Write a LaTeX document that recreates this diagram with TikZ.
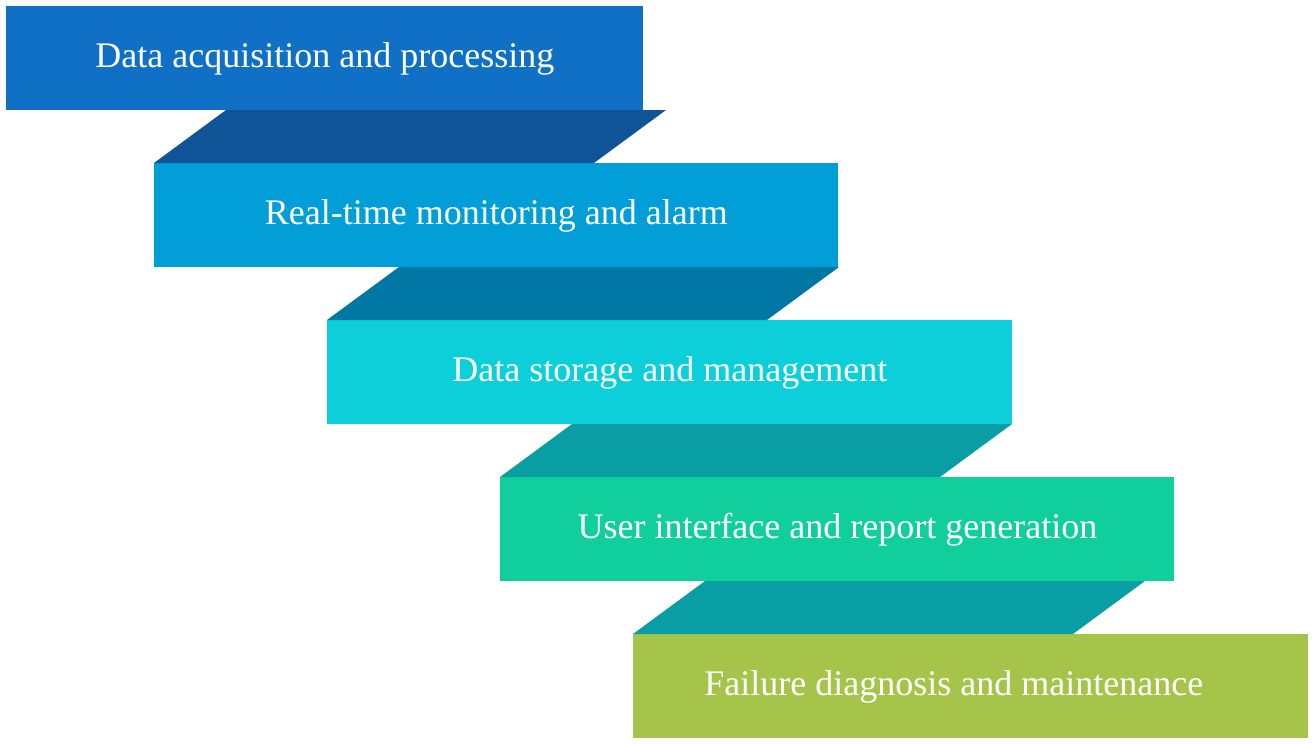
\documentclass[tikz,border=0pt]{standalone}
\usepackage{fontspec}
\setmainfont{Liberation Serif}
\usetikzlibrary{positioning}
\definecolor{stageA}{HTML}{1070C6}
\definecolor{stageB}{HTML}{019ED8}
\definecolor{stageC}{HTML}{0CCFDA}
\definecolor{stageD}{HTML}{11CF9C}
\definecolor{stageE}{HTML}{A6C44A}
\definecolor{linkA}{HTML}{0E5496}
\definecolor{linkB}{HTML}{0077A4}
\definecolor{linkC}{HTML}{099DA4}
\begin{document}
\begin{tikzpicture}[x=0.5pt,y=-0.5pt,
    stage/.style={rectangle,anchor=north west,inner sep=0pt,
      minimum height=52pt,text=white,font=\fontsize{18}{22}\selectfont},
    stagetext/.style={text=white,font=\fontsize{18}{22}\selectfont}]
  \useasboundingbox (0,0) rectangle (1314,744);
  % stages
  \node[stage,fill=stageA,minimum width=318.5pt] (acq) at (6,6) {Data acquisition and processing};
  \node[stage,fill=stageB,minimum width=342pt] (mon) at (154,163) {Real-time monitoring and alarm};
  \node[stage,fill=stageC,minimum width=342.5pt] (sto) at (327,320) {Data storage and management};
  \node[stage,fill=stageD,minimum width=337pt] (gui) at (500,477) {User interface and report generation};
  \node[stage,fill=stageE,minimum width=337.5pt,
    label={[stagetext,name=diagtext,xshift=-8.5pt]center:Failure diagnosis and maintenance}] (diag) at (633,634) {};
  % steps between stages
  \foreach \lo/\col in {mon/linkA,sto/linkB,gui/linkC,diag/linkC}
    \fill[\col] (\lo.north west) -- ++(440,0) -- ++(72,-53) -- ++(-440,0) -- cycle;
\end{tikzpicture}
\end{document}
